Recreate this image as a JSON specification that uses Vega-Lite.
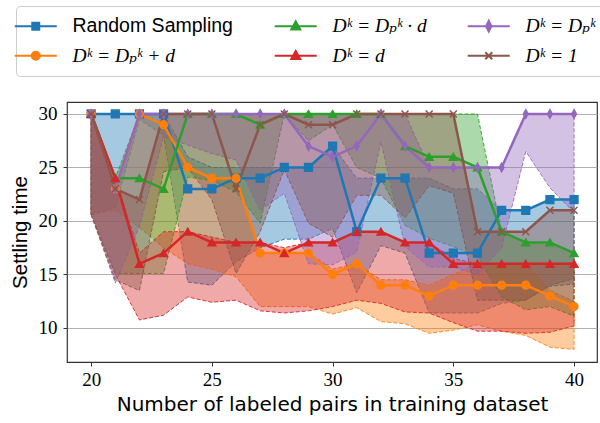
{
"$schema": "https://vega.github.io/schema/vega-lite/v6.json",
"width": 530, "height": 260,
"autosize": {"type": "none"},
"padding": {"left": 67, "top": 102, "right": 3, "bottom": 61},
"background": "white",
"config": {
  "view": {"stroke": "#333333", "strokeWidth": 1.2},
  "style": {"guide-label": {"font": "Liberation Serif, DejaVu Serif, Noto Serif, serif"}},
  "axis": {"domain": false, "labelFont": "Liberation Serif, DejaVu Serif, Noto Serif, serif", "labelFontSize": 19, "labelColor": "#000", "tickColor": "#333", "tickSize": 4, "tickWidth": 1, "titleColor": "#000", "titleFontWeight": "normal"},
  "axisX": {"labelFont": "Liberation Serif, DejaVu Serif, Noto Serif, serif"},
  "axisY": {"labelFont": "Liberation Serif, DejaVu Serif, Noto Serif, serif"},
  "axisQuantitative": {"labelFont": "Liberation Serif, DejaVu Serif, Noto Serif, serif"}
},
"data": {"values": [
{"s":"Random Sampling","x":20,"y":30,"lo":20.6,"hi":30},
{"s":"Random Sampling","x":21,"y":30,"lo":21.3,"hi":30},
{"s":"Random Sampling","x":22,"y":30,"lo":29.5,"hi":30},
{"s":"Random Sampling","x":23,"y":30,"lo":28,"hi":30},
{"s":"Random Sampling","x":24,"y":23,"lo":14.3,"hi":26},
{"s":"Random Sampling","x":25,"y":23,"lo":14,"hi":25},
{"s":"Random Sampling","x":26,"y":24,"lo":16.2,"hi":25},
{"s":"Random Sampling","x":27,"y":24,"lo":17.5,"hi":25},
{"s":"Random Sampling","x":28,"y":25,"lo":18.3,"hi":25},
{"s":"Random Sampling","x":29,"y":25,"lo":18.3,"hi":25},
{"s":"Random Sampling","x":30,"y":27,"lo":19.3,"hi":27},
{"s":"Random Sampling","x":31,"y":19,"lo":13.3,"hi":24},
{"s":"Random Sampling","x":32,"y":24,"lo":17.7,"hi":24},
{"s":"Random Sampling","x":33,"y":24,"lo":17,"hi":24},
{"s":"Random Sampling","x":34,"y":17,"lo":11.4,"hi":24},
{"s":"Random Sampling","x":35,"y":17,"lo":11.4,"hi":23},
{"s":"Random Sampling","x":36,"y":17,"lo":11.4,"hi":23},
{"s":"Random Sampling","x":37,"y":21,"lo":12.3,"hi":21},
{"s":"Random Sampling","x":38,"y":21,"lo":12.6,"hi":21},
{"s":"Random Sampling","x":39,"y":22,"lo":13.9,"hi":22},
{"s":"Random Sampling","x":40,"y":22,"lo":14.1,"hi":22},
{"s":"Dᵏ = Dₚᵏ + d","x":20,"y":30,"lo":20.6,"hi":30},
{"s":"Dᵏ = Dₚᵏ + d","x":21,"y":23,"lo":21,"hi":23},
{"s":"Dᵏ = Dₚᵏ + d","x":22,"y":30,"lo":19.4,"hi":30},
{"s":"Dᵏ = Dₚᵏ + d","x":23,"y":29,"lo":17.5,"hi":29},
{"s":"Dᵏ = Dₚᵏ + d","x":24,"y":25,"lo":16,"hi":25},
{"s":"Dᵏ = Dₚᵏ + d","x":25,"y":24,"lo":15.5,"hi":24},
{"s":"Dᵏ = Dₚᵏ + d","x":26,"y":24,"lo":14.8,"hi":24},
{"s":"Dᵏ = Dₚᵏ + d","x":27,"y":17,"lo":12,"hi":17},
{"s":"Dᵏ = Dₚᵏ + d","x":28,"y":17,"lo":12,"hi":17},
{"s":"Dᵏ = Dₚᵏ + d","x":29,"y":17,"lo":12,"hi":17},
{"s":"Dᵏ = Dₚᵏ + d","x":30,"y":15,"lo":11.3,"hi":15.5},
{"s":"Dᵏ = Dₚᵏ + d","x":31,"y":16,"lo":11.9,"hi":16},
{"s":"Dᵏ = Dₚᵏ + d","x":32,"y":14,"lo":10.6,"hi":14.5},
{"s":"Dᵏ = Dₚᵏ + d","x":33,"y":14,"lo":10.4,"hi":14.5},
{"s":"Dᵏ = Dₚᵏ + d","x":34,"y":13,"lo":9.5,"hi":14},
{"s":"Dᵏ = Dₚᵏ + d","x":35,"y":14,"lo":9.8,"hi":15},
{"s":"Dᵏ = Dₚᵏ + d","x":36,"y":14,"lo":10.3,"hi":16},
{"s":"Dᵏ = Dₚᵏ + d","x":37,"y":14,"lo":9.7,"hi":16},
{"s":"Dᵏ = Dₚᵏ + d","x":38,"y":14,"lo":9.3,"hi":16},
{"s":"Dᵏ = Dₚᵏ + d","x":39,"y":13,"lo":8.2,"hi":13.5},
{"s":"Dᵏ = Dₚᵏ + d","x":40,"y":12,"lo":8,"hi":12.5},
{"s":"Dᵏ = Dₚᵏ · d","x":20,"y":30,"lo":20.6,"hi":30},
{"s":"Dᵏ = Dₚᵏ · d","x":21,"y":24,"lo":15.1,"hi":24},
{"s":"Dᵏ = Dₚᵏ · d","x":22,"y":24,"lo":15.1,"hi":30},
{"s":"Dᵏ = Dₚᵏ · d","x":23,"y":23,"lo":15.1,"hi":30},
{"s":"Dᵏ = Dₚᵏ · d","x":24,"y":30,"lo":24.1,"hi":30},
{"s":"Dᵏ = Dₚᵏ · d","x":25,"y":30,"lo":23.8,"hi":30},
{"s":"Dᵏ = Dₚᵏ · d","x":26,"y":30,"lo":22.7,"hi":30},
{"s":"Dᵏ = Dₚᵏ · d","x":27,"y":29,"lo":19.8,"hi":30},
{"s":"Dᵏ = Dₚᵏ · d","x":28,"y":30,"lo":30,"hi":30},
{"s":"Dᵏ = Dₚᵏ · d","x":29,"y":30,"lo":27.5,"hi":30},
{"s":"Dᵏ = Dₚᵏ · d","x":30,"y":30,"lo":29,"hi":30},
{"s":"Dᵏ = Dₚᵏ · d","x":31,"y":30,"lo":25,"hi":30},
{"s":"Dᵏ = Dₚᵏ · d","x":32,"y":30,"lo":24,"hi":30},
{"s":"Dᵏ = Dₚᵏ · d","x":33,"y":27,"lo":19.6,"hi":30},
{"s":"Dᵏ = Dₚᵏ · d","x":34,"y":26,"lo":18.4,"hi":30},
{"s":"Dᵏ = Dₚᵏ · d","x":35,"y":26,"lo":17.6,"hi":30},
{"s":"Dᵏ = Dₚᵏ · d","x":36,"y":25,"lo":16.7,"hi":30},
{"s":"Dᵏ = Dₚᵏ · d","x":37,"y":19,"lo":12.9,"hi":19},
{"s":"Dᵏ = Dₚᵏ · d","x":38,"y":18,"lo":11.7,"hi":18},
{"s":"Dᵏ = Dₚᵏ · d","x":39,"y":18,"lo":12,"hi":18},
{"s":"Dᵏ = Dₚᵏ · d","x":40,"y":17,"lo":11.1,"hi":17},
{"s":"Dᵏ = d","x":20,"y":30,"lo":20.6,"hi":30},
{"s":"Dᵏ = d","x":21,"y":24,"lo":15,"hi":24},
{"s":"Dᵏ = d","x":22,"y":16,"lo":10.75,"hi":17},
{"s":"Dᵏ = d","x":23,"y":17,"lo":11.2,"hi":19},
{"s":"Dᵏ = d","x":24,"y":19,"lo":12.9,"hi":19},
{"s":"Dᵏ = d","x":25,"y":18,"lo":12.4,"hi":18.5},
{"s":"Dᵏ = d","x":26,"y":18,"lo":12.6,"hi":18},
{"s":"Dᵏ = d","x":27,"y":18,"lo":11.6,"hi":18},
{"s":"Dᵏ = d","x":28,"y":17,"lo":11.4,"hi":17.5},
{"s":"Dᵏ = d","x":29,"y":18,"lo":11.6,"hi":18},
{"s":"Dᵏ = d","x":30,"y":18,"lo":12,"hi":18},
{"s":"Dᵏ = d","x":31,"y":19,"lo":12.6,"hi":19},
{"s":"Dᵏ = d","x":32,"y":19,"lo":12.3,"hi":19},
{"s":"Dᵏ = d","x":33,"y":18,"lo":11.5,"hi":18},
{"s":"Dᵏ = d","x":34,"y":18,"lo":11.4,"hi":18},
{"s":"Dᵏ = d","x":35,"y":16,"lo":10.5,"hi":16.5},
{"s":"Dᵏ = d","x":36,"y":16,"lo":9.7,"hi":16},
{"s":"Dᵏ = d","x":37,"y":16,"lo":9.7,"hi":16},
{"s":"Dᵏ = d","x":38,"y":16,"lo":9.5,"hi":16},
{"s":"Dᵏ = d","x":39,"y":16,"lo":9.6,"hi":16},
{"s":"Dᵏ = d","x":40,"y":16,"lo":10.2,"hi":16},
{"s":"Dᵏ = Dₚᵏ","x":20,"y":30,"lo":20.6,"hi":30},
{"s":"Dᵏ = Dₚᵏ","x":21,"y":23,"lo":14.2,"hi":23},
{"s":"Dᵏ = Dₚᵏ","x":22,"y":30,"lo":19.5,"hi":30},
{"s":"Dᵏ = Dₚᵏ","x":23,"y":30,"lo":27.9,"hi":30},
{"s":"Dᵏ = Dₚᵏ","x":24,"y":30,"lo":27.1,"hi":30},
{"s":"Dᵏ = Dₚᵏ","x":25,"y":30,"lo":26.3,"hi":30},
{"s":"Dᵏ = Dₚᵏ","x":26,"y":30,"lo":25.7,"hi":30},
{"s":"Dᵏ = Dₚᵏ","x":27,"y":30,"lo":21,"hi":30},
{"s":"Dᵏ = Dₚᵏ","x":28,"y":30,"lo":22.6,"hi":30},
{"s":"Dᵏ = Dₚᵏ","x":29,"y":27,"lo":16,"hi":30},
{"s":"Dᵏ = Dₚᵏ","x":30,"y":26,"lo":15.9,"hi":30},
{"s":"Dᵏ = Dₚᵏ","x":31,"y":27,"lo":17.1,"hi":30},
{"s":"Dᵏ = Dₚᵏ","x":32,"y":30,"lo":27.4,"hi":30},
{"s":"Dᵏ = Dₚᵏ","x":33,"y":27,"lo":17.6,"hi":30},
{"s":"Dᵏ = Dₚᵏ","x":34,"y":25,"lo":15.7,"hi":25},
{"s":"Dᵏ = Dₚᵏ","x":35,"y":25,"lo":15.7,"hi":25},
{"s":"Dᵏ = Dₚᵏ","x":36,"y":25,"lo":15,"hi":25},
{"s":"Dᵏ = Dₚᵏ","x":37,"y":25,"lo":17.5,"hi":25},
{"s":"Dᵏ = Dₚᵏ","x":38,"y":30,"lo":26.5,"hi":30},
{"s":"Dᵏ = Dₚᵏ","x":39,"y":30,"lo":23.1,"hi":30},
{"s":"Dᵏ = Dₚᵏ","x":40,"y":30,"lo":20.8,"hi":30},
{"s":"Dᵏ = 1","x":20,"y":30,"lo":20.6,"hi":30},
{"s":"Dᵏ = 1","x":21,"y":23,"lo":14.5,"hi":23},
{"s":"Dᵏ = 1","x":22,"y":22,"lo":13.5,"hi":22},
{"s":"Dᵏ = 1","x":23,"y":30,"lo":24.6,"hi":30},
{"s":"Dᵏ = 1","x":24,"y":30,"lo":25,"hi":30},
{"s":"Dᵏ = 1","x":25,"y":30,"lo":22,"hi":30},
{"s":"Dᵏ = 1","x":26,"y":23,"lo":15.1,"hi":30},
{"s":"Dᵏ = 1","x":27,"y":29,"lo":19,"hi":30},
{"s":"Dᵏ = 1","x":28,"y":30,"lo":24.8,"hi":30},
{"s":"Dᵏ = 1","x":29,"y":29,"lo":19.8,"hi":30},
{"s":"Dᵏ = 1","x":30,"y":29,"lo":18.5,"hi":30},
{"s":"Dᵏ = 1","x":31,"y":30,"lo":22.4,"hi":30},
{"s":"Dᵏ = 1","x":32,"y":30,"lo":22.4,"hi":30},
{"s":"Dᵏ = 1","x":33,"y":30,"lo":20.3,"hi":30},
{"s":"Dᵏ = 1","x":34,"y":30,"lo":23.3,"hi":30},
{"s":"Dᵏ = 1","x":35,"y":30,"lo":22.6,"hi":30},
{"s":"Dᵏ = 1","x":36,"y":19,"lo":12.6,"hi":19},
{"s":"Dᵏ = 1","x":37,"y":19,"lo":12.6,"hi":19},
{"s":"Dᵏ = 1","x":38,"y":19,"lo":12.6,"hi":19},
{"s":"Dᵏ = 1","x":39,"y":21,"lo":14,"hi":21},
{"s":"Dᵏ = 1","x":40,"y":21,"lo":14.6,"hi":21}
]},
"layer": [
  {
    "mark": {"type": "area", "fillOpacity": 0.4, "opacity": 1, "strokeWidth": 1, "strokeDash": [4, 2], "strokeOpacity": 0.9},
    "encoding": {
      "x": {"field": "x", "type": "quantitative", "scale": {"domain": [19.0, 40.95], "nice": false, "zero": false},
            "axis": {"values": [20, 25, 30, 35, 40], "grid": false, "labelFont": "Liberation Serif, DejaVu Serif, Noto Serif, serif", "labelFontSize": 19, "title": "Number of labeled pairs in training dataset", "titleFont": "DejaVu Sans", "titleFontSize": 20, "labelPadding": 4, "titlePadding": 5}},
      "y": {"field": "lo", "type": "quantitative", "scale": {"domain": [6.82, 31.12], "nice": false, "zero": false},
            "axis": {"values": [10, 15, 20, 25, 30], "grid": true, "gridColor": "#b0b0b0", "gridWidth": 1, "labelFont": "Liberation Serif, DejaVu Serif, Noto Serif, serif", "labelFontSize": 19, "title": "Settling time", "titleFont": "Liberation Sans", "titleFontSize": 20.5, "labelPadding": 6, "titlePadding": 8}},
      "y2": {"field": "hi"},
      "color": {"field": "s", "type": "nominal", "legend": null,
        "scale": {"domain": ["Random Sampling", "Dᵏ = Dₚᵏ + d", "Dᵏ = Dₚᵏ · d", "Dᵏ = d", "Dᵏ = Dₚᵏ", "Dᵏ = 1"],
                  "range": ["#1f77b4", "#ff7f0e", "#2ca02c", "#d62728", "#9467bd", "#8c564b"]}},
      "stroke": {"field": "s", "type": "nominal", "legend": null,
        "scale": {"domain": ["Random Sampling", "Dᵏ = Dₚᵏ + d", "Dᵏ = Dₚᵏ · d", "Dᵏ = d", "Dᵏ = Dₚᵏ", "Dᵏ = 1"],
                  "range": ["#1f77b4", "#ff7f0e", "#2ca02c", "#d62728", "#9467bd", "#8c564b"]}}
    }
  },
  {
    "mark": {"type": "line", "strokeWidth": 2.5, "opacity": 1},
    "encoding": {
      "x": {"field": "x", "type": "quantitative",
            "axis": {"values": [20, 25, 30, 35, 40], "grid": false, "labelFont": "Liberation Serif, DejaVu Serif, Noto Serif, serif", "labelFontSize": 19, "title": "Number of labeled pairs in training dataset", "titleFont": "DejaVu Sans", "titleFontSize": 20, "labelPadding": 4, "titlePadding": 5}},
      "y": {"field": "y", "type": "quantitative",
            "axis": {"values": [10, 15, 20, 25, 30], "grid": true, "gridColor": "#b0b0b0", "gridWidth": 1, "labelFont": "Liberation Serif, DejaVu Serif, Noto Serif, serif", "labelFontSize": 19, "title": "Settling time", "titleFont": "Liberation Sans", "titleFontSize": 20.5, "labelPadding": 6, "titlePadding": 8}},
      "color": {"field": "s", "type": "nominal", "legend": null,
        "scale": {"domain": ["Random Sampling", "Dᵏ = Dₚᵏ + d", "Dᵏ = Dₚᵏ · d", "Dᵏ = d", "Dᵏ = Dₚᵏ", "Dᵏ = 1"],
                  "range": ["#1f77b4", "#ff7f0e", "#2ca02c", "#d62728", "#9467bd", "#8c564b"]}}
    }
  },
  {
    "mark": {"type": "point", "filled": true, "opacity": 1, "size": 60, "strokeWidth": 1.5},
    "encoding": {
      "x": {"field": "x", "type": "quantitative",
            "axis": {"values": [20, 25, 30, 35, 40], "grid": false, "labelFont": "Liberation Serif, DejaVu Serif, Noto Serif, serif", "labelFontSize": 19, "title": "Number of labeled pairs in training dataset", "titleFont": "DejaVu Sans", "titleFontSize": 20, "labelPadding": 4, "titlePadding": 5}},
      "y": {"field": "y", "type": "quantitative",
            "axis": {"values": [10, 15, 20, 25, 30], "grid": true, "gridColor": "#b0b0b0", "gridWidth": 1, "labelFont": "Liberation Serif, DejaVu Serif, Noto Serif, serif", "labelFontSize": 19, "title": "Settling time", "titleFont": "Liberation Sans", "titleFontSize": 20.5, "labelPadding": 6, "titlePadding": 8}},
      "color": {"field": "s", "type": "nominal", "legend": null,
        "scale": {"domain": ["Random Sampling", "Dᵏ = Dₚᵏ + d", "Dᵏ = Dₚᵏ · d", "Dᵏ = d", "Dᵏ = Dₚᵏ", "Dᵏ = 1"],
                  "range": ["#1f77b4", "#ff7f0e", "#2ca02c", "#d62728", "#9467bd", "#8c564b"]}},
      "stroke": {"field": "s", "type": "nominal", "legend": null,
        "scale": {"domain": ["Random Sampling", "Dᵏ = Dₚᵏ + d", "Dᵏ = Dₚᵏ · d", "Dᵏ = d", "Dᵏ = Dₚᵏ", "Dᵏ = 1"],
                  "range": ["#1f77b4", "#ff7f0e", "#2ca02c", "#d62728", "#9467bd", "#8c564b"]}},
      "shape": {"field": "s", "type": "nominal", "legend": null,
        "scale": {"domain": ["Random Sampling", "Dᵏ = Dₚᵏ + d", "Dᵏ = Dₚᵏ · d", "Dᵏ = d", "Dᵏ = Dₚᵏ", "Dᵏ = 1"],
                  "range": ["square", "circle", "triangle-up", "triangle-up", "M0,-1.1L0.6,0L0,1.1L-0.6,0Z", "M-0.9,-0.9L0.9,0.9M-0.9,0.9L0.9,-0.9"]}}
    }
  },
  {
    "mark": {"type": "point", "filled": true, "opacity": 0},
    "encoding": {
      "x": {"field": "x", "type": "quantitative",
            "axis": {"values": [20, 25, 30, 35, 40], "grid": false, "labelFont": "Liberation Serif, DejaVu Serif, Noto Serif, serif", "labelFontSize": 19, "title": "Number of labeled pairs in training dataset", "titleFont": "DejaVu Sans", "titleFontSize": 20, "labelPadding": 4, "titlePadding": 5}},
      "y": {"field": "y", "type": "quantitative",
            "axis": {"values": [10, 15, 20, 25, 30], "grid": true, "gridColor": "#b0b0b0", "gridWidth": 1, "labelFont": "Liberation Serif, DejaVu Serif, Noto Serif, serif", "labelFontSize": 19, "title": "Settling time", "titleFont": "Liberation Sans", "titleFontSize": 20.5, "labelPadding": 6, "titlePadding": 8}},
      "color": {"field": "s", "type": "nominal",
        "scale": {"domain": ["Random Sampling", "Dᵏ = Dₚᵏ · d", "Dᵏ = Dₚᵏ", "Dᵏ = Dₚᵏ + d", "Dᵏ = d", "Dᵏ = 1"],
                  "range": ["#1f77b4", "#2ca02c", "#9467bd", "#ff7f0e", "#d62728", "#8c564b"]},
        "legend": {"orient": "none", "legendX": -51, "legendY": -96, "columns": 3, "direction": "horizontal", "title": null}},
      "stroke": {"field": "s", "type": "nominal",
        "scale": {"domain": ["Random Sampling", "Dᵏ = Dₚᵏ · d", "Dᵏ = Dₚᵏ", "Dᵏ = Dₚᵏ + d", "Dᵏ = d", "Dᵏ = 1"],
                  "range": ["#1f77b4", "#2ca02c", "#9467bd", "#ff7f0e", "#d62728", "#8c564b"]},
        "legend": {"orient": "none", "legendX": -51, "legendY": -96, "columns": 3, "direction": "horizontal", "title": null}},
      "shape": {"field": "s", "type": "nominal",
        "scale": {"domain": ["Random Sampling", "Dᵏ = Dₚᵏ · d", "Dᵏ = Dₚᵏ", "Dᵏ = Dₚᵏ + d", "Dᵏ = d", "Dᵏ = 1"],
                  "range": [
                    "M-4.2,0L4.2,0M-0.7,-0.7L0.7,-0.7L0.7,0.7L-0.7,0.7Z",
                    "M-4.2,0L4.2,0M0,-0.95L0.9,0.65L-0.9,0.65Z",
                    "M-4.2,0L4.2,0M0,-1.1L0.55,0L0,1.1L-0.55,0Z",
                    "M-4.2,0L4.2,0M-0.8,0A0.8,0.8,0,1,0,0.8,0A0.8,0.8,0,1,0,-0.8,0Z",
                    "M-4.2,0L4.2,0M0,-0.95L0.9,0.65L-0.9,0.65Z",
                    "M-4.2,0L4.2,0M-0.7,-0.7L0.7,0.7M-0.7,0.7L0.7,-0.7"
                  ]},
        "legend": {
          "orient": "none", "legendX": -51, "legendY": -96,
          "columns": 3, "direction": "horizontal",
          "title": null,
          "symbolSize": 100, "symbolStrokeWidth": 2, "symbolOpacity": 1,
          "labelOffset": 27, "labelFont": "Liberation Serif, DejaVu Serif, Noto Serif, serif", "labelFontStyle": "italic", "labelFontSize": 19.5, "labelColor": "#000", "labelLimit": 400,
          "labelExpr": "datum.label == 'Random Sampling' ? '\u200b\u00a0\u00a0\u00a0\u00a0\u00a0\u00a0\u00a0\u00a0\u00a0\u00a0\u00a0\u00a0\u00a0\u00a0\u00a0\u00a0\u00a0\u00a0\u00a0\u00a0\u00a0\u00a0\u00a0\u00a0\u00a0\u00a0\u00a0\u00a0\u00a0\u00a0\u00a0\u00a0\u00a0\u200b' : datum.label",
          "columnPadding": 36, "rowPadding": 9, "padding": 10,
          "strokeColor": "#cccccc", "cornerRadius": 4
        }
      }
    }
  },
  {
    "mark": {"type": "point", "opacity": 0},
    "encoding": {
      "x": {"field": "x", "type": "quantitative",
            "axis": {"values": [20, 25, 30, 35, 40], "grid": false, "labelFont": "Liberation Serif, DejaVu Serif, Noto Serif, serif", "labelFontSize": 19, "title": "Number of labeled pairs in training dataset", "titleFont": "DejaVu Sans", "titleFontSize": 20, "labelPadding": 4, "titlePadding": 5}},
      "y": {"field": "y", "type": "quantitative",
            "axis": {"values": [10, 15, 20, 25, 30], "grid": true, "gridColor": "#b0b0b0", "gridWidth": 1, "labelFont": "Liberation Serif, DejaVu Serif, Noto Serif, serif", "labelFontSize": 19, "title": "Settling time", "titleFont": "Liberation Sans", "titleFontSize": 20.5, "labelPadding": 6, "titlePadding": 8}},
      "shape": {"field": "s", "type": "nominal",
        "scale": {"domain": ["Random Sampling", "Dᵏ = Dₚᵏ · d", "Dᵏ = Dₚᵏ", "Dᵏ = Dₚᵏ + d", "Dᵏ = d", "Dᵏ = 1"],
                  "range": [
                    "M-4.2,0L4.2,0M-0.7,-0.7L0.7,-0.7L0.7,0.7L-0.7,0.7Z",
                    "M-4.2,0L4.2,0M0,-0.95L0.9,0.65L-0.9,0.65Z",
                    "M-4.2,0L4.2,0M0,-1.1L0.55,0L0,1.1L-0.55,0Z",
                    "M-4.2,0L4.2,0M-0.8,0A0.8,0.8,0,1,0,0.8,0A0.8,0.8,0,1,0,-0.8,0Z",
                    "M-4.2,0L4.2,0M0,-0.95L0.9,0.65L-0.9,0.65Z",
                    "M-4.2,0L4.2,0M-0.7,-0.7L0.7,0.7M-0.7,0.7L0.7,-0.7"
                  ]},
        "legend": {
          "orient": "none", "legendX": -51, "legendY": -96,
          "columns": 3, "direction": "horizontal",
          "title": null,
          "symbolSize": 100, "symbolStrokeWidth": 2, "symbolOpacity": 0,
          "labelOffset": 27, "labelFont": "Liberation Sans", "labelFontSize": 19.5, "labelColor": "#000", "labelLimit": 400,
          "labelExpr": "datum.label == 'Random Sampling' ? datum.label : ''",
          "columnPadding": 36, "rowPadding": 9, "padding": 10
        }
      }
    }
  }
],
"resolve": {"scale": {"shape": "independent", "color": "independent", "stroke": "independent"}}
}
